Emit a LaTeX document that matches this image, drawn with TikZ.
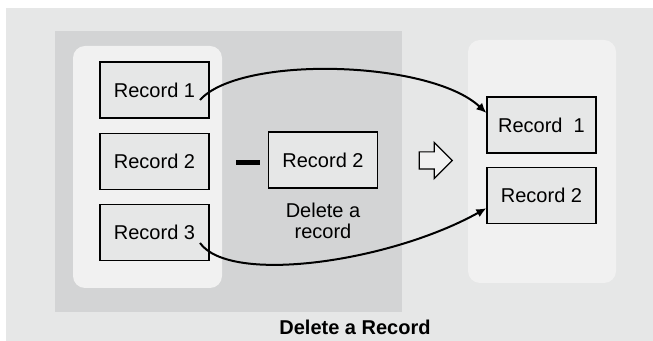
\documentclass[tikz,border=0pt]{standalone}
\usepackage{fontspec}
\setmainfont{Liberation Sans}
\usetikzlibrary{positioning,shapes.arrows,arrows.meta}
\definecolor{outerbg}{HTML}{E6E7E7}
\definecolor{darkbg}{HTML}{D3D4D5}
\definecolor{panelbg}{HTML}{F1F1F1}
\definecolor{recfill}{HTML}{E6E7E7}
\begin{document}
\begin{tikzpicture}[
  x=0.5pt, y=-0.5pt,
  record/.style={draw, line width=0.6pt, fill=recfill, minimum width=54.5pt, minimum height=28pt, inner sep=0pt, font=\fontsize{10}{12}\selectfont},
  panel/.style={fill=panelbg, rounded corners=6pt},
  flow/.style={line width=1pt, -{Latex[length=5pt,width=4.5pt]}}
]
\useasboundingbox (0,0) rectangle (653,341);
% backgrounds
\fill[outerbg] (6,8) rectangle (653,341);
\fill[darkbg] (55,31) rectangle (402,312);
\fill[panel] (73,46) rectangle (222,288);
\fill[panel] (468,40) rectangle (616,283);

% records before
\node[record] (r1) at (154.5,90) {Record 1};
\node[record, below=7pt of r1] (r2) {Record 2};
\node[record, below=7pt of r2] (r3) {Record 3};

% record to delete
\fill (236,160.5) rectangle (260,165.5);
\node[record] (m2) at (323,160) {Record 2};
\node[align=center, inner sep=0pt, font=\fontsize{10}{10.5}\selectfont] (mlabel) at (323,221) {Delete a\\record};

\node[single arrow, draw, line width=0.6pt, fill=panelbg, inner sep=4pt,
  minimum height=16.5pt, single arrow head extend=4.75pt] (step) at (431.5,160.5) {};

% records after
\node[record] (n1) at (541.5,125) {Record\ \ 1};
\node[record, below=6.5pt of n1] (n2) {Record 2};

\coordinate (s1) at (200,100);
\coordinate (s3) at (200,243);
\draw[flow] (s1) .. controls (240,55) and (430,60) .. ([yshift=6pt]n1.west);
\draw[flow] (s3) .. controls (230,285) and (390,262) .. ([yshift=-6.5pt]n2.west);

\node[font=\bfseries\fontsize{10}{12}\selectfont] (title) at (355,327) {Delete a Record};
\end{tikzpicture}
\end{document}
